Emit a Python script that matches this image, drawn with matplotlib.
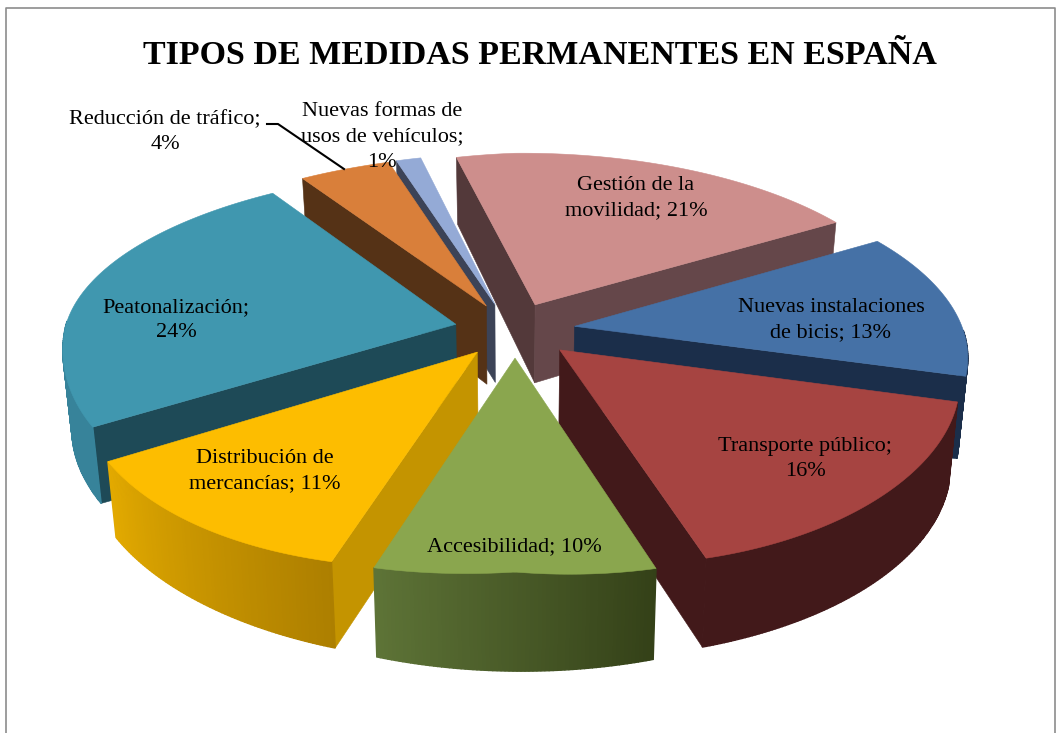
import numpy as np
import matplotlib
matplotlib.use('Agg')
import matplotlib.pyplot as plt
from matplotlib.patches import Polygon
from matplotlib.colors import to_rgb

plt.rcParams['font.family'] = ['Liberation Serif', 'DejaVu Serif']

categories = ['Gestión de la\nmovilidad', 'Nuevas instalaciones\nde bicis', 'Transporte público',
              'Accesibilidad', 'Distribución de\nmercancías', 'Peatonalización',
              'Reducción de tráfico', 'Nuevas formas de\nusos de vehículos']
values = [21, 13, 16, 10, 11, 24, 4, 1]
label_seps = [' ', ' ', '\n', ' ', ' ', '\n', '\n', '\n']

# colours: top, first radial wall, second radial wall, outer wall left and right of the shade
top_cols = ['#CD8E8C', '#4571A6', '#A64441', '#8AA64E', '#FDBD00', '#4097AF', '#D97F3A', '#94AAD6']
wall_a = ['#53393A', '#1B2E4A', '#42191A', '#5F7535', '#C49400', '#1E4A57', '#553216', '#3C4357']
wall_b = ['#65474A', '#1B2E4A', '#42191A', '#5F7535', '#C49400', '#1E4A57', '#553216', '#3C4357']
outer_l = ['#65474A', '#1B2E4A', '#42191A', '#5E7437', '#E3AA00', '#37839A', '#553216', '#3C4357']
outer_r = ['#65474A', '#1B2E4A', '#42191A', '#344118', '#AD7F00', '#37839A', '#553216', '#3C4357']

# label centres in pixels
label_pos = [(636, 198), (831, 320), (805, 459), (514, 547), (265, 471), (176, 320), (165, 132), (382, 137)]

fig = plt.figure(figsize=(10.64, 7.33), dpi=100)
ax = fig.add_axes([0, 0, 1, 1])
ax.set_xlim(0, 1064)
ax.set_ylim(733, 0)
ax.axis('off')

cx, cy = 515, 330
R, bR = 390, 177.7
k = 0.1316
depth = 80
explode = 0.155
start = -18


def warp(a):
    # the original's perspective pushes the back left rim to the right
    return a + np.interp(a % 360, [0, 57.6, 200, 237.6, 324, 338.4, 342, 360],
                         [3.8, 0, 0, 2, 3.3, 4.4, 5, 3.8])


def project(u, v, z=0):
    s = 1 / (1 - k * v)
    x = cx + R * u * s
    y = cy + bR * v * s + 4 * u
    if u < 0 and v < 0:
        y = y + 8 * abs(u * v)
    if z:
        y = y + z * depth * s ** 1.3
        x = cx + (x - cx) * (1 - 0.02 * z)
    elif v > 0:
        # front rim is flatter than an ellipse
        side = 0.8 if u > 0 else 0.2
        y = y + 28 * abs(u) * v * (1 - side * abs(u))
    return x, y


def area(pts):
    p = np.array(pts)
    return 0.5 * np.sum(p[:, 0] * np.roll(p[:, 1], -1) - np.roll(p[:, 0], -1) * p[:, 1])


def face(pts, col, z, lw=0.4):
    ax.add_patch(Polygon(pts, closed=True, facecolor=col, edgecolor=col, lw=lw, zorder=z))


# border
ax.plot([6, 6, 1055, 1055], [733, 8, 8, 733], color='#8C8C8C', lw=1.2, zorder=0)

fracs = np.array(values) / sum(values) * 360
a0 = start + np.concatenate([[0], np.cumsum(fracs)[:-1]])

# back to front
order = [0, 7, 6, 1, 5, 2, 4, 3]
for n, i in enumerate(order):
    a_s, a_e = a0[i], a0[i] + fracs[i]
    mid = np.radians((a_s + a_e) / 2)
    ox, oy = explode * np.sin(mid), -explode * np.cos(mid)
    th = np.radians(warp(np.linspace(a_s, a_e, max(int(fracs[i]) * 2, 6))))
    us = ox + np.sin(th)
    vs = oy - np.cos(th)
    base = 10 + n * 2

    # radial walls, only those facing the viewer
    for u_e, v_e, sign, col in [(us[0], vs[0], 1, wall_a[i]), (us[-1], vs[-1], -1, wall_b[i])]:
        pts = [project(ox, oy), project(u_e, v_e), project(u_e, v_e, 1), project(ox, oy, 1)]
        if area(pts) * sign < 0:
            face(pts, col, base)

    # outer wall, shaded from left to right
    c_l, c_r = np.array(to_rgb(outer_l[i])), np.array(to_rgb(outer_r[i]))
    for j in range(len(th) - 1):
        if vs[j] + vs[j + 1] - 2 * oy < 0:
            continue
        pts = [project(us[j], vs[j]), project(us[j + 1], vs[j + 1]),
               project(us[j + 1], vs[j + 1], 1), project(us[j], vs[j], 1)]
        # clockwise rim runs right to left at the front
        face(pts, c_r + (c_l - c_r) * j / (len(th) - 1), base, lw=1.0)

    top = [project(ox, oy)] + [project(a, b) for a, b in zip(us, vs)]
    face(top, top_cols[i], base + 1)

ax.plot([267, 278, 344], [124, 124, 169], color='black', lw=1.5, zorder=40)

for c, v, sep, (lx, ly) in zip(categories, values, label_seps, label_pos):
    ax.text(lx, ly, '%s;%s%d%%' % (c, sep, v), ha='center', va='center', fontsize=16,
            color='black', zorder=50, linespacing=1.47)

ax.text(540, 55, 'TIPOS DE MEDIDAS PERMANENTES EN ESPAÑA', ha='center', va='center',
        fontsize=24.5, fontweight='bold', color='black', zorder=50)

fig.savefig('out.png', dpi=100, facecolor='white')
